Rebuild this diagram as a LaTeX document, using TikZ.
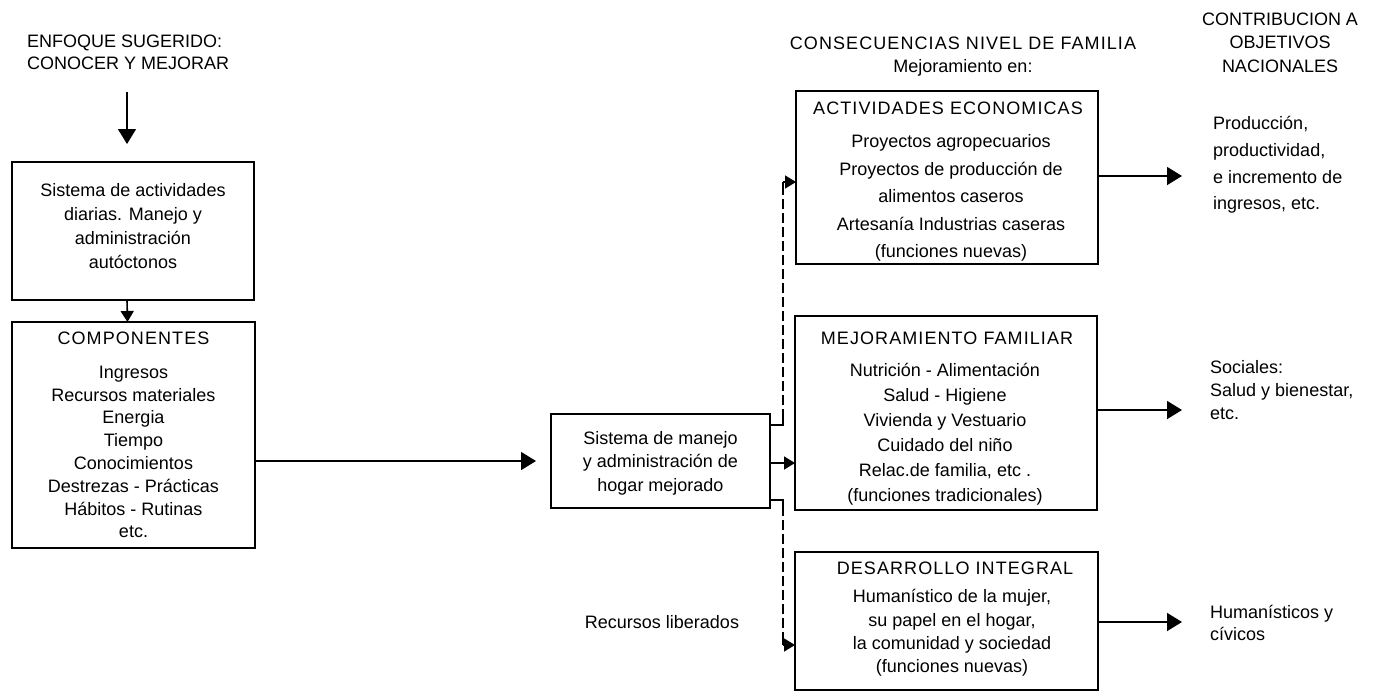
\documentclass[tikz,border=0pt]{standalone}
\usepackage{fontspec}
\setmainfont{Liberation Sans}
\newfontfamily\capsfont[LetterSpace=6]{Liberation Sans}
\usetikzlibrary{arrows.meta,calc}
\begin{document}
\begin{tikzpicture}[x=1pt,y=-1pt]
\tikzset{
  box/.style={draw, line width=2pt, inner sep=0pt, outer sep=0pt},
  txt/.style={align=center, inner sep=0pt, font=\fontsize{18}{#1}\selectfont},
  txt/.default=24,
  ltxt/.style={align=left, anchor=west, inner sep=0pt, font=\fontsize{18}{#1}\selectfont},
  ltxt/.default=24,
  ttl/.style={inner sep=0pt, font=\capsfont\fontsize{18}{22}\selectfont},
  arr/.style={line width=1.6pt, -{Triangle[width=18pt,length=15pt]}},
  sarr/.style={line width=1.6pt, -{Triangle[width=13pt,length=11pt]}},
  sline/.style={line width=1.6pt},
  dline/.style={line width=1.6pt, dash pattern=on 10pt off 4pt},
}
\useasboundingbox (0,0) rectangle (1380,696);
\fill[white] (0,0) rectangle (1380,696);

% headers
\node[ltxt=22] (h1) at (27,52) {ENFOQUE SUGERIDO:\\CONOCER Y MEJORAR};
\node[txt=23, font=\capsfont\fontsize{18}{23}\selectfont] (h2) at (963,56.5) {CONSECUENCIAS NIVEL DE FAMILIA\\\fontspec{Liberation Sans}Mejoramiento en:};
\node[txt=23.5] (h3) at (1280,42.5) {CONTRIBUCION A\\OBJETIVOS\\NACIONALES};

% left column
\coordinate (ta) at (127,92);
\coordinate (tb) at (127,144);
\node[box, minimum width=242, minimum height=138] (b1) at (133,231) {};
\node[txt=24] (t1) at (133,226) {Sistema de actividades\\diarias. Manejo y\\administración\\autóctonos};

\node[box, minimum width=243, minimum height=226] (b2) at (133.5,435) {};
\node[ttl] (t2a) at (133.5,338) {COMPONENTES};
\node[txt=22.8] (t2b) at (133.5,452) {Ingresos\\Recursos materiales\\Energia\\Tiempo\\Conocimientos\\Destrezas - Prácticas\\Hábitos - Rutinas\\etc.};

% middle
\node[box, minimum width=219, minimum height=94] (b3) at (660.5,461) {};
\node[txt=23.5] (t3) at (660.5,463) {Sistema de manejo\\y administración de\\hogar mejorado};
\node[txt] (rl) at (662,622) {Recursos liberados};

% right boxes
\node[box, minimum width=302, minimum height=173] (bA) at (947,177.5) {};
\node[ttl] (tAa) at (948,108) {ACTIVIDADES ECONOMICAS};
\node[txt=27.5] (tAb) at (951,198) {Proyectos agropecuarios\\Proyectos de producción de\\alimentos caseros\\Artesanía Industrias caseras\\(funciones nuevas)};

\node[box, minimum width=302, minimum height=194] (bM) at (946,413) {};
\node[ttl] (tMa) at (947,338) {MEJORAMIENTO FAMILIAR};
\node[txt=25] (tMb) at (945,434.5) {Nutrición - Alimentación\\Salud - Higiene\\Vivienda y Vestuario\\Cuidado del niño\\Relac.de familia, etc .\\(funciones tradicionales)};

\node[box, minimum width=303, minimum height=138] (bD) at (946.5,621) {};
\node[ttl] (tDa) at (955,568) {DESARROLLO INTEGRAL};
\node[txt=23.3] (tDb) at (952,633) {Humanístico de la mujer,\\su papel en el hogar,\\la comunidad y sociedad\\(funciones nuevas)};

% right column texts
\node[ltxt=26.7] (rA) at (1213,165) {Producción,\\productividad,\\e incremento de\\ingresos, etc.};
\node[ltxt=23] (rM) at (1210,390) {Sociales:\\Salud y bienestar,\\etc.};
\node[ltxt=22] (rD) at (1210,623) {Humanísticos y\\cívicos};

% connectors
\draw[arr] (ta) -- (tb);
\draw[sarr] ([xshift=-6pt]b1.south) -- ([xshift=-6pt]b2.north);
\draw[arr] (b2.east |- b3.west) -- ([xshift=-15pt]b3.west);

% upper dashed connector (recursos liberados -> actividades economicas)
\coordinate (u1) at ($(b3.east)+(0,-36)$);
\coordinate (uc) at (783,425);
\coordinate (ue) at ($(bA.west)+(0,4.5)$);
\coordinate (ut) at (uc |- ue);
\draw[sline] (u1) -- (uc) -- ($(uc)+(0,-6)$);
\draw[dline] ($(uc)+(0,-6)$) -- ($(ut)+(0,6)$);
\draw[sline] ($(ut)+(0,6)$) -- (ut);
\draw[sarr] (ut) -- (ue);

\coordinate (m1) at ($(b3.east)+(0,2)$);
\draw[sarr] (m1) -- (m1 -| bM.west);

% lower dashed connector (recursos liberados -> desarrollo integral)
\coordinate (l1) at ($(b3.east)+(0,39)$);
\coordinate (lc) at (783,500);
\coordinate (le) at ($(bD.west)+(0,24)$);
\coordinate (lt) at (lc |- le);
\draw[sline] (l1) -- (lc) -- ($(lc)+(0,6)$);
\draw[dline] ($(lc)+(0,6)$) -- ($(lt)+(0,-6)$);
\draw[sline] ($(lt)+(0,-6)$) -- (lt);
\draw[sarr] (lt) -- (le);

\coordinate (pA) at (1182,176);
\coordinate (pM) at (1182,410);
\coordinate (pD) at (1182,622);
\draw[arr] (bA.east |- pA) -- (pA);
\draw[arr] (bM.east |- pM) -- (pM);
\draw[arr] (bD.east |- pD) -- (pD);
\end{tikzpicture}
\end{document}
